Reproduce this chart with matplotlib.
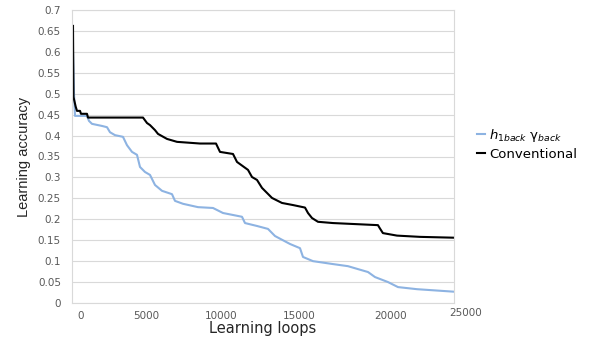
import numpy as np
import matplotlib
matplotlib.use('Agg')
import matplotlib.pyplot as plt
import matplotlib.transforms as mtransforms

# Datos (bucles de aprendizaje vs. precisión)
loops_h = [-615, -538, -461, 461, 615, 846, 1615, 2000, 2230, 2615, 3230, 3538,
           3923, 4307, 4538, 4923, 5267, 5600, 6067, 6733, 6933, 7467, 8467,
           9467, 10128, 11346, 11538, 12308, 13013, 13462, 14423, 15054, 15217,
           15760, 16846, 17660, 18203, 18750, 19130, 19837, 20467, 21733, 24200]
acc_h = [0.600, 0.500, 0.447, 0.447, 0.435, 0.428, 0.423, 0.420, 0.408, 0.401,
         0.397, 0.377, 0.361, 0.354, 0.325, 0.313, 0.306, 0.282, 0.268, 0.260,
         0.244, 0.237, 0.229, 0.227, 0.215, 0.206, 0.191, 0.184, 0.177, 0.160,
         0.141, 0.131, 0.110, 0.100, 0.093, 0.088, 0.081, 0.074, 0.062, 0.050,
         0.038, 0.033, 0.027]

loops_conv = [-615, -577, -408, -308, -77, 0, 461, 538, 4768, 5067, 5267, 5600,
              5800, 6400, 7067, 8600, 9667, 9933, 10770, 11026, 11731, 11987,
              12308, 12628, 13269, 13910, 14615, 15326, 15489, 15706, 16032,
              16846, 19290, 19400, 19560, 20400, 21933, 24200]
acc_conv = [0.662, 0.492, 0.469, 0.459, 0.459, 0.452, 0.452, 0.443, 0.443,
            0.430, 0.425, 0.413, 0.404, 0.392, 0.385, 0.381, 0.381, 0.361,
            0.356, 0.337, 0.318, 0.301, 0.294, 0.275, 0.251, 0.239, 0.234,
            0.228, 0.215, 0.203, 0.194, 0.191, 0.186, 0.178, 0.167, 0.161,
            0.158, 0.156]

x_ticks = [0, 5000, 10000, 15000, 20000, 25000]
y_ticks = np.arange(0, 0.701, 0.05)

# posiciones de las etiquetas del eje x en el original (espaciado irregular)
knot_loops = [-10000, 0, 5000, 10000, 15000, 20000, 25000, 35000]
knot_pos = [-49, 81, 146, 221, 299, 391, 466, 616]


def forward(x):
    return np.interp(x, knot_loops, knot_pos)


def inverse(p):
    return np.interp(p, knot_pos, knot_loops)


fig = plt.figure(figsize=(5.89, 3.38), dpi=100)
ax = fig.add_axes([72 / 589, 1 - 303 / 338, (454 - 72) / 589, (303 - 10) / 338])

ax.set_xscale('function', functions=(forward, inverse))
ax.set_xlim(-692, 24200)
ax.set_ylim(0, 0.7)

ax.plot(loops_h, acc_h, color='#8db3e2', lw=1.5, label=r'$h_{1back}$ γ$_{back}$')
ax.plot(loops_conv, acc_conv, color='black', lw=1.5, label='Conventional')

ax.set_yticks(y_ticks)
ax.set_yticklabels([f'{v:g}' for v in np.round(y_ticks, 2)])
ax.set_xticks(x_ticks[:-1])
ax.set_xticklabels([str(v) for v in x_ticks[:-1]])
# la última etiqueta queda fuera del área del gráfico
trans = mtransforms.blended_transform_factory(ax.transData, ax.transAxes)
ax.text(x_ticks[-1], -0.0333, str(x_ticks[-1]), transform=trans, ha='center',
        va='center', fontsize=7.5, color='#595959')

ax.tick_params(axis='both', length=0, labelsize=7.5, colors='#595959')
ax.tick_params(axis='y', pad=8)
ax.tick_params(axis='x', pad=6)

ax.grid(axis='y', color='#d9d9d9', lw=0.8)
ax.set_axisbelow(True)
for s in ax.spines.values():
    s.set_color('#d9d9d9')
    s.set_linewidth(0.8)

ax.set_xlabel('Learning loops', fontsize=10.5, color='#262626', labelpad=0)
ax.set_ylabel('Learning accuracy', fontsize=10.5, family='Liberation Sans',
              color='#262626', labelpad=5)

fig.legend(loc='center left', bbox_to_anchor=(472 / 589, 1 - 144 / 338),
           frameon=False, fontsize=9.5, handlelength=0.6, handletextpad=0.3,
           labelspacing=0.3, borderaxespad=0)

fig.savefig('out.png', dpi=100)
